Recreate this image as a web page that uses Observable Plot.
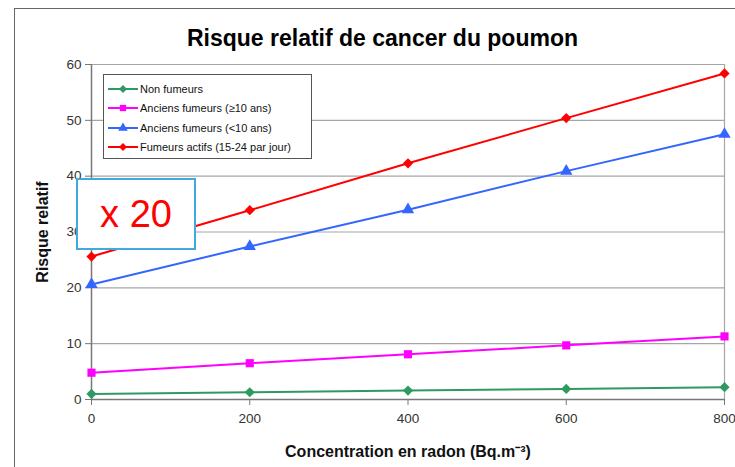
<!DOCTYPE html>
<html><head><meta charset="utf-8">
<script src="https://cdn.jsdelivr.net/npm/d3@7"></script>
<script src="https://cdn.jsdelivr.net/npm/@observablehq/plot@0.6"></script>
<style>
body{margin:0;background:#fff;font-family:"Liberation Sans",Arial,sans-serif;}
#wrap{position:relative;width:735px;height:467px;overflow:hidden;}
#frame{position:absolute;left:14px;top:8px;width:740px;height:480px;border-left:1.5px solid #666;border-top:1.5px solid #666;}
#title{position:absolute;left:0;top:0;width:735px;height:55px;text-align:center;font-weight:bold;font-size:23px;line-height:22px;padding-top:27px;box-sizing:border-box;color:#000;padding-left:30px;}
#chart{position:absolute;left:0;top:55px;}
#legend{position:absolute;left:103px;top:74px;width:209px;height:85px;border:1px solid #555;background:#fff;box-sizing:border-box;padding:4px 0 0 4px;font-size:11px;color:#111;}
#legend .row{height:19.5px;display:flex;align-items:center;}
#legend svg{margin-right:2px;}
#x20{position:absolute;left:76px;top:178px;width:120px;height:72px;border:2px solid #3fa9e0;background:#fff;box-sizing:border-box;color:#ff0000;font-size:38px;display:flex;align-items:center;justify-content:center;}
</style></head>
<body><div id="wrap"><div id="frame"></div><div id="title">Risque relatif de cancer du poumon</div><div id="chart"></div><div id="legend"></div><div id="x20">x 20</div></div>
<script>
const concentrations = [0, 200, 400, 600, 800];
const seriesNames = ["Non fumeurs", "Anciens fumeurs (≥10 ans)", "Anciens fumeurs (<10 ans)", "Fumeurs actifs (15-24 par jour)"];
const nonFumeurs = [1.0, 1.3, 1.6, 1.9, 2.2];
const anciens10plus = [4.8, 6.5, 8.1, 9.7, 11.3];
const anciens10moins = [20.6, 27.4, 34.0, 40.9, 47.5];
const fumeursActifs = [25.6, 33.9, 42.3, 50.4, 58.4];
const colors = ["#2e9a62", "#ff00ff", "#3366ff", "#ff0000"];
const symbols = ["diamond2", "square", "triangle", "diamond2"];
const xTicks = [0, 200, 400, 600, 800];
const yTicks = [0, 10, 20, 30, 40, 50, 60];

const allSeries = [nonFumeurs, anciens10plus, anciens10moins, fumeursActifs];
const data = allSeries.flatMap((vals, i) => vals.map((v, j) => ({x: concentrations[j], y: v, s: seriesNames[i]})));

const plot = Plot.plot({
  width: 735, height: 412,
  marginLeft: 91, marginRight: 11, marginTop: 9, marginBottom: 68,
  style: {fontFamily: "Liberation Sans, Arial, sans-serif", fontSize: "13px", color: "#333", background: "transparent"},
  x: {domain: [0, 800], ticks: xTicks, label: null},
  y: {domain: [0, 60], ticks: yTicks, label: null},
  color: {domain: seriesNames, range: colors},
  symbol: {domain: seriesNames, range: symbols},
  marks: [
    Plot.ruleY(yTicks.filter(d => d > 0), {stroke: "#a6a6a6", strokeWidth: 1.2}),
    Plot.ruleX([800], {stroke: "#a6a6a6", strokeWidth: 1.2}),
    Plot.ruleY([0], {stroke: "#777", strokeWidth: 1.5}),
    Plot.ruleX([0], {stroke: "#777", strokeWidth: 1.5}),
    Plot.axisX({ticks: xTicks, tickSize: 6, stroke: "#777", fill: "#333", fontSize: 13.5, tickPadding: 8}),
    Plot.axisY({ticks: yTicks, tickSize: 6, stroke: "#777", fill: "#333", fontSize: 13.5, tickPadding: 4}),
    Plot.lineY(data, {x: "x", y: "y", stroke: "s", strokeWidth: 2}),
    Plot.dot(data, {x: "x", y: "y", fill: "s", symbol: "s", r: 4.6, stroke: "none"}),
    Plot.text(["Concentration en radon (Bq.m⁻³)"], {frameAnchor: "bottom", dy: 57, fontWeight: "bold", fontSize: 16, fill: "#111"}),
    Plot.text(["Risque relatif"], {frameAnchor: "left", textAnchor: "middle", dx: -49, rotate: -90, fontWeight: "bold", fontSize: 16, fill: "#111"})
  ]
});
document.getElementById("chart").appendChild(plot);

// legend
const legend = document.getElementById("legend");
const symPaths = {
  diamond2: d3.symbol(d3.symbolDiamond2, 40)(),
  square: d3.symbol(d3.symbolSquare, 40)(),
  triangle: d3.symbol(d3.symbolTriangle, 40)()
};
seriesNames.forEach((name, i) => {
  const row = document.createElement("div");
  row.className = "row";
  row.innerHTML = `<svg width="30" height="12"><line x1="0" x2="30" y1="6" y2="6" stroke="${colors[i]}" stroke-width="2"/><path transform="translate(15,6)" d="${symPaths[symbols[i]]}" fill="${colors[i]}"/></svg><span></span>`;
  row.querySelector("span").textContent = name;
  legend.appendChild(row);
});
</script>
</body></html>
